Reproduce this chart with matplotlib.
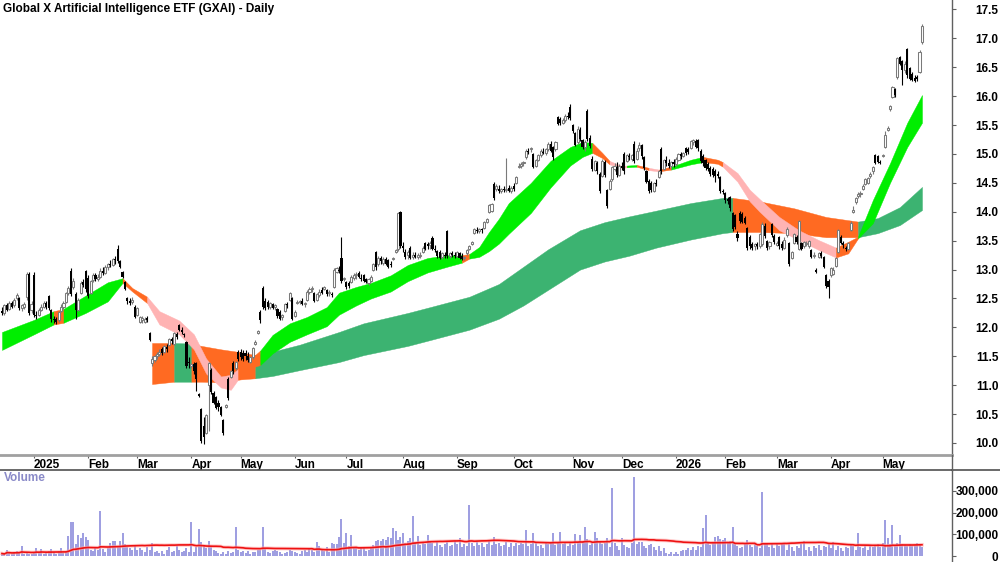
import matplotlib
matplotlib.use('Agg')
import matplotlib.pyplot as plt
from matplotlib.lines import Line2D
from matplotlib.ticker import FuncFormatter
import numpy as np
import pandas as pd

plt.rcParams['font.family'] = ['Liberation Sans', 'DejaVu Sans']

title = 'Global X Artificial Intelligence ETF (GXAI) - Daily'

opens = [
12.28,12.25,12.38,12.32,12.42,12.38,12.50,12.50,12.33,12.36,
12.52,12.92,12.30,12.90,12.22,12.22,12.30,12.36,12.42,12.54,
12.30,12.14,12.14,12.12,12.28,12.36,12.44,12.60,12.98,12.70,
12.58,12.30,12.60,12.78,12.98,12.86,12.60,12.82,12.90,12.84,
12.88,12.98,12.94,13.05,13.10,13.08,13.18,13.36,13.14,12.95,
12.78,12.50,12.46,12.44,12.36,12.22,12.10,12.12,12.10,12.16,
11.90,11.38,11.44,11.50,11.54,11.62,11.58,11.66,11.70,11.80,
11.72,11.88,12.04,11.96,11.88,11.74,11.40,11.33,11.36,11.38,
10.84,10.58,10.30,10.18,11.00,11.26,10.86,10.80,10.70,10.62,
10.40,10.62,11.10,11.14,11.38,11.30,11.58,11.58,11.56,11.55,
11.50,11.40,11.48,11.72,11.90,12.26,12.68,12.46,12.44,12.36,
12.40,12.36,12.32,12.26,12.18,12.28,12.40,12.48,12.50,12.20,
12.42,12.44,12.46,12.40,12.47,12.62,12.66,12.60,12.48,12.56,
12.64,12.66,12.64,12.60,12.58,12.70,12.96,13.00,13.20,12.84,
12.78,12.76,12.78,12.86,12.90,12.94,12.86,12.90,12.84,12.76,
12.80,13.00,13.30,13.10,13.20,13.12,13.18,13.16,13.10,13.18,
13.30,13.35,14.00,13.40,13.30,13.26,13.38,13.22,13.26,13.22,
13.24,13.30,13.46,13.44,13.42,13.55,13.36,13.32,13.30,13.22,
13.26,13.66,13.24,13.28,13.26,13.24,13.28,13.24,13.20,13.28,
13.36,13.44,13.64,13.68,13.66,13.70,13.72,13.82,14.00,14.02,
14.48,14.40,14.40,14.36,14.40,14.38,14.42,14.36,14.44,14.50,
14.78,14.80,14.84,14.94,15.06,15.08,15.00,14.80,14.90,14.98,
15.04,15.02,15.08,15.18,15.12,15.08,15.64,15.60,15.54,15.58,
15.66,15.82,15.50,15.36,15.20,15.42,15.24,15.12,15.74,15.28,
14.92,14.72,14.84,14.66,14.62,14.86,14.38,14.40,14.56,14.74,
14.78,14.64,14.80,15.00,14.88,14.96,14.92,15.18,14.92,15.10,
15.16,14.94,14.70,14.54,14.50,14.36,14.50,14.60,15.08,14.74,
14.90,14.84,14.80,14.86,14.82,14.90,15.00,14.96,15.10,15.08,
15.10,15.20,15.22,15.24,15.06,14.96,14.90,14.82,14.76,14.74,
14.70,14.66,14.60,14.36,14.32,14.22,14.26,13.98,13.94,13.62,
13.98,13.96,13.90,13.72,13.56,13.44,13.40,13.44,13.40,13.44,
13.76,13.50,13.40,13.78,13.58,13.42,13.56,13.44,13.38,13.60,
13.46,13.20,13.46,13.56,13.36,13.46,13.40,13.44,13.40,13.34,
13.24,13.00,13.22,13.28,13.22,12.90,12.80,12.90,12.92,13.06,
13.30,13.56,13.46,13.38,13.36,13.69,14.00,14.17,14.28,14.30,
14.40,14.48,14.50,14.62,14.70,14.98,14.96,14.86,14.96,15.12,
15.42,15.78,15.99,16.12,16.33,16.68,16.60,16.46,16.82,16.48,
16.38,16.32,16.34,16.42,16.94]

highs = [
12.35,12.40,12.42,12.45,12.46,12.50,12.60,12.52,12.40,12.44,
12.95,12.95,12.45,12.95,12.28,12.34,12.40,12.45,12.46,12.56,
12.32,12.20,12.18,12.28,12.40,12.46,12.62,12.72,13.02,12.85,
12.62,12.50,12.80,12.84,13.00,12.90,12.82,12.94,12.94,12.92,
13.02,13.04,13.08,13.12,13.16,13.20,13.24,13.42,13.16,12.98,
12.80,12.52,12.50,12.52,12.38,12.36,12.20,12.20,12.18,12.20,
11.92,11.50,11.52,11.58,11.62,11.66,11.70,11.72,11.82,11.84,
11.92,11.92,12.06,12.00,11.90,11.76,11.48,11.38,11.40,11.40,
10.86,10.60,10.45,10.50,11.40,11.30,10.90,10.82,10.74,10.64,
10.42,10.68,11.14,11.26,11.42,11.42,11.60,11.62,11.60,11.60,
11.58,11.50,11.66,11.78,11.96,12.30,12.72,12.50,12.48,12.44,
12.42,12.40,12.34,12.30,12.24,12.42,12.44,12.62,12.52,12.30,
12.48,12.48,12.50,12.44,12.65,12.70,12.72,12.62,12.60,12.66,
12.70,12.72,12.66,12.64,12.62,13.02,13.04,13.06,13.56,12.88,
12.80,12.80,12.90,12.94,12.96,12.98,12.92,12.92,12.86,12.86,
12.90,13.12,13.32,13.24,13.24,13.22,13.22,13.18,13.14,13.22,
13.36,14.00,14.02,13.48,13.36,13.34,13.40,13.30,13.30,13.28,
13.30,13.40,13.48,13.48,13.50,13.58,13.42,13.34,13.34,13.30,
13.30,13.68,13.30,13.32,13.30,13.32,13.30,13.28,13.24,13.36,
13.42,13.50,13.72,13.74,13.72,13.72,13.84,13.90,14.14,14.16,
14.52,14.48,14.46,14.42,14.44,14.93,14.46,14.44,14.50,14.62,
14.84,14.86,14.88,15.08,15.10,15.12,15.02,14.92,15.00,15.08,
15.10,15.10,15.20,15.22,15.14,15.22,15.66,15.64,15.62,15.70,
15.72,15.86,15.52,15.38,15.48,15.46,15.26,15.24,15.78,15.32,
14.96,14.90,14.88,14.68,14.92,14.90,14.40,14.56,14.80,14.84,
14.86,14.82,14.86,15.04,15.00,15.02,15.00,15.22,15.10,15.20,
15.18,14.96,14.72,14.56,14.54,14.52,14.56,14.72,15.12,14.92,
14.96,14.92,14.88,14.92,14.94,15.02,15.04,15.04,15.12,15.12,
15.24,15.26,15.26,15.26,15.08,15.00,14.92,14.86,14.80,14.78,
14.74,14.70,14.62,14.40,14.34,14.26,14.28,14.00,13.96,13.66,
14.02,14.00,13.92,13.74,13.60,13.48,13.46,13.48,13.64,13.82,
13.80,13.52,13.50,13.80,13.62,13.50,13.58,13.50,13.56,13.74,
13.48,13.32,13.64,13.60,13.86,13.48,13.50,13.50,13.52,13.36,
13.30,13.02,13.30,13.32,13.24,12.92,12.84,13.04,13.04,13.22,
13.70,13.60,13.50,13.40,13.48,13.84,14.10,14.26,14.34,14.36,
14.48,14.58,14.60,14.68,14.80,15.00,14.98,14.90,15.00,15.40,
15.48,15.85,16.18,16.14,16.68,16.70,16.62,16.60,16.84,16.50,
16.42,16.36,16.36,16.80,17.25]

lows = [
12.22,12.22,12.28,12.30,12.33,12.35,12.48,12.30,12.28,12.32,
12.48,12.22,12.25,12.18,12.15,12.20,12.28,12.33,12.32,12.30,
12.10,12.08,12.06,12.10,12.26,12.32,12.42,12.56,12.55,12.66,
12.15,12.28,12.58,12.70,12.62,12.50,12.58,12.78,12.80,12.80,
12.85,12.90,12.92,13.00,13.04,13.06,13.10,13.12,13.02,12.86,
12.64,12.40,12.38,12.40,12.16,12.20,12.08,12.08,12.08,12.10,
11.76,11.34,11.40,11.46,11.50,11.52,11.56,11.58,11.68,11.72,
11.70,11.80,11.94,11.88,11.84,11.30,11.30,11.30,11.20,10.90,
10.80,10.00,9.98,10.15,10.20,10.85,10.68,10.58,10.56,10.46,
10.14,10.60,10.74,11.12,11.20,11.26,11.42,11.44,11.42,11.44,
11.40,11.38,11.46,11.70,11.88,12.08,12.32,12.30,12.32,12.32,
12.32,12.30,12.16,12.12,12.12,12.26,12.34,12.46,12.12,12.18,
12.40,12.40,12.38,12.36,12.45,12.58,12.62,12.44,12.46,12.52,
12.58,12.64,12.55,12.55,12.52,12.68,12.94,12.94,12.76,12.80,
12.66,12.68,12.76,12.82,12.84,12.86,12.80,12.78,12.76,12.74,
12.78,12.98,13.00,13.06,13.10,13.08,13.08,13.02,13.04,13.16,
13.28,13.32,13.38,13.30,13.18,13.18,13.18,13.18,13.20,13.18,
13.20,13.28,13.34,13.36,13.36,13.34,13.30,13.20,13.18,13.18,
13.20,13.20,13.20,13.22,13.20,13.22,13.18,13.16,13.16,13.26,
13.34,13.42,13.62,13.64,13.64,13.64,13.70,13.80,13.98,14.00,
14.20,14.36,14.32,14.32,14.34,14.34,14.34,14.32,14.36,14.48,
14.76,14.76,14.80,14.92,15.00,15.04,14.76,14.78,14.88,14.95,
15.00,14.98,15.06,15.04,14.90,15.06,15.50,15.50,15.52,15.56,
15.60,15.58,15.36,15.14,15.18,15.22,15.08,15.06,15.22,15.10,
14.70,14.70,14.66,14.32,14.60,14.60,14.06,14.38,14.54,14.70,
14.60,14.62,14.72,14.66,14.86,14.90,14.88,14.84,14.90,15.06,
14.92,14.72,14.50,14.32,14.34,14.34,14.44,14.58,14.66,14.72,
14.80,14.76,14.74,14.78,14.80,14.88,14.92,14.94,14.98,15.00,
15.08,15.16,15.10,15.06,14.84,14.80,14.72,14.70,14.62,14.60,
14.52,14.58,14.32,14.30,14.16,14.14,14.02,13.66,13.70,13.50,
13.80,13.80,13.78,13.34,13.36,13.34,13.34,13.36,13.38,13.40,
13.54,13.34,13.36,13.56,13.44,13.40,13.36,13.34,13.36,13.56,
13.06,13.18,13.44,13.44,13.34,13.34,13.38,13.40,13.38,13.20,
13.20,12.94,13.20,13.20,13.02,12.68,12.50,12.88,12.90,13.04,
13.28,13.44,13.38,13.32,13.34,13.66,13.98,14.14,14.24,14.26,
14.38,14.46,14.48,14.58,14.66,14.82,14.84,14.82,14.94,15.10,
15.40,15.74,15.96,15.98,16.30,16.54,16.20,16.40,16.32,16.28,
16.26,16.24,16.26,16.40,16.90]

closes = [
12.25,12.38,12.30,12.42,12.36,12.48,12.56,12.33,12.38,12.40,
12.92,12.25,12.40,12.22,12.20,12.30,12.36,12.42,12.35,12.33,
12.14,12.12,12.10,12.26,12.36,12.42,12.60,12.68,12.58,12.80,
12.30,12.48,12.76,12.74,12.66,12.54,12.80,12.90,12.84,12.88,
12.98,12.94,13.05,13.10,13.08,13.18,13.16,13.15,13.04,12.88,
12.66,12.46,12.42,12.48,12.18,12.34,12.18,12.16,12.15,12.12,
11.78,11.46,11.50,11.54,11.58,11.55,11.68,11.62,11.80,11.76,
11.90,11.84,11.96,11.92,11.87,11.34,11.38,11.36,11.25,11.10,
10.82,10.04,10.10,10.48,11.38,10.88,10.70,10.60,10.62,10.48,
10.18,10.66,10.78,11.24,11.24,11.40,11.45,11.48,11.46,11.50,
11.44,11.48,11.64,11.75,11.93,12.12,12.36,12.34,12.36,12.42,
12.34,12.38,12.20,12.15,12.22,12.40,12.38,12.60,12.14,12.27,
12.44,12.46,12.40,12.42,12.62,12.66,12.68,12.46,12.58,12.62,
12.60,12.70,12.58,12.62,12.56,13.00,13.02,12.98,12.80,12.85,
12.70,12.72,12.88,12.90,12.92,12.88,12.84,12.80,12.78,12.84,
12.87,13.10,13.04,13.20,13.14,13.18,13.10,13.05,13.08,13.20,
13.34,13.98,13.40,13.38,13.22,13.30,13.20,13.26,13.22,13.26,
13.25,13.38,13.36,13.40,13.46,13.36,13.34,13.24,13.20,13.28,
13.24,13.24,13.28,13.26,13.24,13.30,13.20,13.18,13.22,13.34,
13.40,13.48,13.70,13.66,13.70,13.68,13.82,13.88,14.12,14.14,
14.24,14.44,14.36,14.40,14.38,14.40,14.36,14.42,14.40,14.60,
14.80,14.82,14.86,15.06,15.04,15.10,14.78,14.90,14.98,15.05,
15.02,15.08,15.18,15.06,14.94,15.20,15.52,15.54,15.58,15.66,
15.64,15.62,15.40,15.16,15.44,15.26,15.12,15.20,15.26,15.14,
14.74,14.88,14.70,14.36,14.88,14.64,14.10,14.54,14.78,14.80,
14.64,14.80,14.76,14.70,14.98,14.94,14.98,14.88,15.06,15.16,
14.96,14.76,14.52,14.36,14.38,14.50,14.48,14.70,14.70,14.90,
14.84,14.80,14.86,14.82,14.92,15.00,14.96,15.02,15.02,15.04,
15.22,15.24,15.12,15.10,14.88,14.84,14.76,14.74,14.66,14.64,
14.62,14.62,14.36,14.34,14.20,14.18,14.06,13.70,13.74,13.54,
13.84,13.82,13.80,13.38,13.40,13.38,13.44,13.40,13.62,13.78,
13.58,13.38,13.48,13.60,13.48,13.46,13.40,13.38,13.52,13.70,
13.10,13.30,13.62,13.48,13.84,13.36,13.48,13.46,13.50,13.22,
13.26,12.96,13.28,13.24,13.04,12.72,12.70,13.02,13.00,13.20,
13.68,13.46,13.42,13.35,13.46,13.81,14.03,14.24,14.30,14.33,
14.45,14.56,14.58,14.65,14.78,14.84,14.86,14.85,14.98,15.33,
15.45,15.83,16.16,16.02,16.66,16.56,16.46,16.56,16.36,16.30,
16.28,16.26,16.30,16.76,17.22]

volumes_k = [
12,8,28,15,10,18,22,14,45,10,
16,12,8,20,37,14,32,10,15,22,
32,18,12,25,35,15,20,91,155,155,
55,95,85,105,88,72,28,22,40,30,
205,32,20,38,62,70,70,48,70,104,
55,42,38,30,45,28,35,30,20,40,
30,58,20,25,15,22,12,30,40,18,
25,45,30,20,25,35,20,155,20,40,
123,63,45,38,68,40,30,25,15,12,
20,10,25,15,20,132,30,18,22,15,
25,12,18,20,30,28,136,35,20,15,
22,30,25,18,12,15,20,30,25,18,
15,12,25,30,20,35,28,20,64,45,
30,25,40,20,60,55,55,90,171,60,
104,45,98,40,35,30,40,35,25,30,
38,50,70,72,68,80,75,90,85,127,
115,75,90,105,60,70,85,182,65,93,
50,60,55,95,65,60,45,70,50,40,
55,65,45,50,70,55,85,40,55,45,
236,60,45,65,50,60,40,55,70,50,
88,55,60,48,52,65,40,58,45,60,
50,62,55,118,48,55,107,60,45,50,
35,60,55,65,107,50,60,113,55,62,
45,58,50,100,65,95,70,136,80,50,
60,113,85,70,55,60,85,40,313,60,
45,30,85,50,40,35,60,364,55,65,
63,45,35,50,55,40,30,45,25,35,
15,10,20,12,18,10,25,30,28,35,
30,40,28,45,40,128,190,65,50,60,
88,93,80,75,84,65,70,134,60,45,
35,40,55,76,50,40,60,45,35,296,
55,60,40,58,35,60,45,55,62,30,
58,40,25,45,35,55,68,30,40,25,
45,35,50,30,45,40,55,35,63,30,
45,38,25,40,35,50,45,30,107,40,
35,45,30,50,40,45,55,40,60,168,
82,55,141,50,60,95,55,50,48,55,
45,50,58,52,42]

# month ticks (bar positions) and labels
month_pos = [13, 35, 55, 77, 97, 119, 140, 163, 185, 208, 232, 252, 274, 294, 315, 337, 358]
month_labels = ['2025', 'Feb', 'Mar', 'Apr', 'May', 'Jun', 'Jul', 'Aug', 'Sep',
                'Oct', 'Nov', 'Dec', '2026', 'Feb', 'Mar', 'Apr', 'May']

# short-term ribbon (bar, upper, lower, colour of following interval)
short_x  = [0, 13, 21, 25, 34, 43, 49, 53, 59, 64, 72, 78, 83, 89, 93, 96, 102, 105, 110, 117,
            124, 132, 137, 144, 150, 158, 165, 173, 181, 187, 190, 194, 198, 202, 206, 215, 223,
            231, 236, 240, 244, 247, 252, 254, 258, 263, 267, 272, 280, 285, 291, 293, 299, 304,
            308, 316, 324, 332, 339, 344, 348, 354, 361, 368, 374]
short_hi = [11.92, 12.13, 12.28, 12.32, 12.55, 12.78, 12.85, 12.68, 12.53, 12.28, 12.12, 11.88,
            11.46, 11.15, 11.18, 11.28, 11.49, 11.60, 11.87, 12.07, 12.18, 12.35, 12.60, 12.70,
            12.77, 12.90, 13.08, 13.20, 13.25, 13.25, 13.27, 13.39, 13.65, 13.88, 14.15, 14.50,
            14.88, 15.12, 15.21, 15.19, 15.02, 14.88, 14.79, 14.80, 14.81, 14.76, 14.73, 14.78,
            14.90, 14.95, 14.90, 14.86, 14.67, 14.38, 14.22, 13.91, 13.68, 13.51, 13.38, 13.48,
            13.57, 14.20, 14.84, 15.54, 16.02]
short_lo = [11.61, 11.88, 12.05, 12.08, 12.25, 12.45, 12.77, 12.62, 12.42, 12.05, 11.88, 11.62,
            11.20, 10.96, 10.92, 11.10, 11.31, 11.35, 11.55, 11.75, 11.88, 12.02, 12.22, 12.38,
            12.50, 12.62, 12.80, 12.95, 13.05, 13.12, 13.19, 13.22, 13.32, 13.45, 13.62, 13.98,
            14.42, 14.80, 14.95, 15.02, 14.93, 14.82, 14.76, 14.77, 14.78, 14.72, 14.70, 14.73,
            14.82, 14.86, 14.83, 14.78, 14.52, 14.18, 14.00, 13.68, 13.51, 13.34, 13.21, 13.28,
            13.54, 13.80, 14.50, 15.12, 15.54]
short_col = ['g', 'g', 'o', 'g', 'g', 'g', 'o', 'o', 'p', 'p', 'p', 'p', 'p', 'p', 'p', 'o', 'o',
             'g', 'g', 'g', 'g', 'g', 'g', 'g', 'g', 'g', 'g', 'g', 'g', 'o', 'g', 'g', 'g', 'g',
             'g', 'g', 'g', 'g', 'g', 'o', 'o', 'p', 'p', 'g', 'o', 'p', 'o', 'g', 'g', 'o', 'o',
             'p', 'p', 'p', 'p', 'p', 'p', 'p', 'o', 'o', 'g', 'g', 'g', 'g', 'g']

# long-term ribbon
long_x  = [61, 70, 77, 81, 89, 97, 103, 110, 121, 137, 147, 165, 174, 190, 202, 212, 222, 235,
           245, 255, 266, 280, 293, 297, 308, 322, 335, 348, 356, 365, 374]
long_hi = [11.73, 11.73, 11.72, 11.68, 11.62, 11.57, 11.52, 11.58, 11.70, 11.92, 12.07, 12.25,
           12.35, 12.53, 12.75, 13.05, 13.35, 13.68, 13.82, 13.92, 14.02, 14.15, 14.24, 14.24,
           14.18, 14.06, 13.91, 13.83, 13.89, 14.08, 14.43]
long_lo = [11.02, 11.06, 11.06, 11.06, 11.05, 11.10, 11.12, 11.16, 11.26, 11.40, 11.52, 11.68,
           11.78, 11.96, 12.15, 12.38, 12.65, 13.00, 13.14, 13.24, 13.38, 13.52, 13.63, 13.65,
           13.65, 13.63, 13.56, 13.56, 13.63, 13.77, 14.03]
long_col = ['o', 'd', 'o', 'o', 'o', 'o', 'd', 'd', 'd', 'd', 'd', 'd', 'd', 'd', 'd', 'd', 'd',
            'd', 'd', 'd', 'd', 'd', 'd', 'o', 'o', 'o', 'o', 'd', 'd', 'd', 'd']

palette = {'g': '#00ee00', 'o': '#ff6a22', 'p': '#ffb3b3', 'd': '#3cb371'}

W, H = 1000, 562
fig = plt.figure(figsize=(W / 100, H / 100), dpi=100)
ax = fig.add_axes([0, (H - 455) / H, 952 / W, 455 / H])
axv = fig.add_axes([0, 0, 952 / W, (H - 470) / H])

o = np.array(opens); h = np.array(highs); l = np.array(lows); c = np.array(closes)
vol = np.array(volumes_k) * 1000.0
x = np.arange(len(c))


def draw_band(a, bx, hi, lo, cols, z):
    bx = np.array(bx); hi = np.array(hi); lo = np.array(lo)
    n = len(bx)
    start = 0
    for k in range(1, n):
        if k == n - 1 or cols[k] != cols[start]:
            seg = slice(start, k + 1)
            colr = palette[cols[start]]
            a.fill_between(bx[seg], lo[seg], hi[seg], facecolor=colr, edgecolor=colr,
                           lw=0.3, zorder=z)
            start = k


draw_band(ax, long_x, long_hi, long_lo, long_col, 1)
draw_band(ax, short_x, short_hi, short_lo, short_col, 2)

up = c >= o
body_lo = np.minimum(o, c)
body_h = np.maximum(np.abs(c - o), 0.018)
ax.vlines(x[up], l[up], h[up], color='#7a7a7a', lw=0.8, zorder=3)
ax.vlines(x[~up], l[~up], h[~up], color='black', lw=0.8, zorder=3)
ax.bar(x[up], body_h[up], bottom=body_lo[up], width=0.85, facecolor='white',
       edgecolor='#7a7a7a', lw=0.75, zorder=4)
ax.bar(x[~up], body_h[~up], bottom=body_lo[~up], width=0.85, color='black', lw=0, zorder=4)

xlim = (-0.81, 386.2)
ax.set_xlim(*xlim)
ax.set_ylim(9.792, 17.664)
axv.set_xlim(*xlim)
axv.set_ylim(-27000, 395500)

# axes styling
for a in (ax, axv):
    a.spines['left'].set_visible(False)
    a.spines['top'].set_visible(False)
    a.spines['right'].set_color('#606060')
    a.spines['right'].set_linewidth(1.0)
    a.yaxis.tick_right()
    a.tick_params(axis='y', direction='out', length=3, width=0.8, color='#606060',
                  pad=30.5, labelsize=8.5)
ax.spines['bottom'].set_color('#a0a0a0')
ax.spines['bottom'].set_linewidth(2.0)
axv.spines['bottom'].set_visible(False)
axv.spines['top'].set_visible(True)
axv.spines['top'].set_color('#505050')
axv.spines['top'].set_linewidth(1.2)

yt = np.arange(10.0, 17.51, 0.5)
ax.set_yticks(yt)
ax.set_yticklabels(['%.1f' % v for v in yt])
for lab in ax.get_yticklabels():
    lab.set_ha('right'); lab.set_fontweight('bold')

ax.set_xticks(month_pos)
ax.set_xticklabels(month_labels)
ax.tick_params(axis='x', direction='out', length=2.5, width=0.8, color='#606060', pad=0.5,
               labelsize=8.5)
for lab in ax.get_xticklabels():
    lab.set_ha('left'); lab.set_fontweight('bold')

axv.vlines(x, 0, vol, color='#8c8cdc', lw=1.2, zorder=2)
ma = pd.Series(vol).rolling(50, min_periods=1).mean()
axv.plot(x, ma, color='#ffaaaa', lw=2.6, alpha=0.6, zorder=3)
axv.plot(x, ma, color='#ee1111', lw=1.2, zorder=4)
axv.set_xticks([])
vt = [0, 100000, 200000, 300000]
axv.set_yticks(vt)
axv.yaxis.set_major_formatter(FuncFormatter(lambda v, p: '{:,.0f}'.format(v)))
for lab in axv.get_yticklabels():
    lab.set_ha('right'); lab.set_fontweight('bold')

# separators
fig.add_artist(Line2D([952 / W, 1], [1 - 469.5 / H] * 2, color='#505050', lw=1.2))
fig.add_artist(Line2D([952 / W] * 2, [1 - 470 / H, 1 - 455 / H], color='#606060', lw=1.0))

fig.text(3 / W, 1 - 9 / H, title, ha='left', va='center', fontsize=8.5, fontweight='bold')
fig.text(4 / W, 1 - 478 / H, 'Volume', ha='left', va='center', fontsize=8.5,
         fontweight='bold', color='#8a8ac8')

fig.savefig('out.png', dpi=100, facecolor='white')
